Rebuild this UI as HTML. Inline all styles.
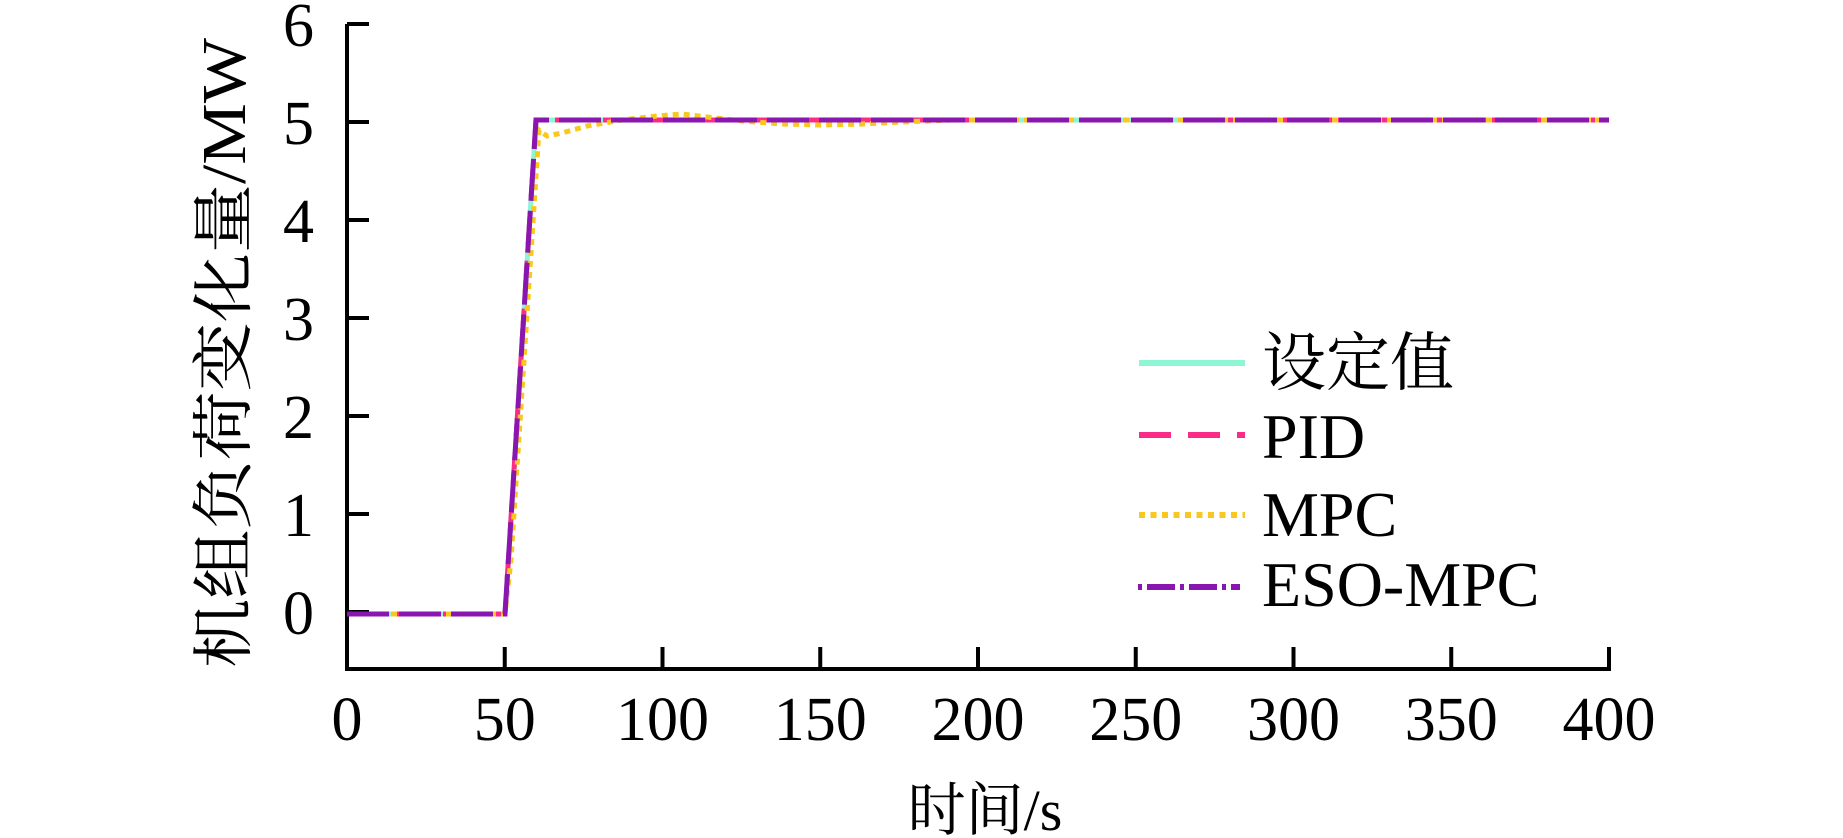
<!DOCTYPE html>
<html><head><meta charset="utf-8"><style>
html,body{margin:0;padding:0;background:#fff;}
svg{display:block;}
text{font-family:"Liberation Serif","Noto Serif CJK SC",serif;fill:#000;}
</style></head><body>
<svg width="1843" height="838" viewBox="0 0 1843 838" xmlns="http://www.w3.org/2000/svg">
<g stroke="#000" stroke-width="4" fill="none">
<path d="M347 24 L347 669 L1609 669 L1609 647"/>
<path d="M347 24 L369 24 M347 122 L369 122 M347 220 L369 220 M347 318 L369 318 M347 416 L369 416 M347 514 L369 514 M347 612 L369 612"/>
<path d="M504.75 669 V647 M662.5 669 V647 M820.25 669 V647 M978 669 V647 M1135.75 669 V647 M1293.5 669 V647 M1451.25 669 V647"/>
</g>
<g font-size="62" text-anchor="end">
<text x="314" y="46">6</text><text x="314" y="144">5</text><text x="314" y="242">4</text>
<text x="314" y="340">3</text><text x="314" y="438">2</text><text x="314" y="536">1</text><text x="314" y="634">0</text>
</g>
<g font-size="62" text-anchor="middle">
<text x="347" y="740">0</text><text x="504.75" y="740">50</text><text x="662.5" y="740">100</text>
<text x="820.25" y="740">150</text><text x="978" y="740">200</text><text x="1135.75" y="740">250</text>
<text x="1293.5" y="740">300</text><text x="1451.25" y="740">350</text><text x="1609" y="740">400</text>
</g>
<text x="985" y="830" font-size="58" text-anchor="middle">时间/s</text>
<text transform="translate(245,353) rotate(-90)" font-size="62" text-anchor="middle" textLength="630" lengthAdjust="spacingAndGlyphs">机组负荷变化量/MW</text>
<g fill="none" stroke-width="5">
<path d="M347 614 L505 614 L536 120 L1609 120" stroke="#8ef5d5"/>
<path d="M347 614 L505 614 L536 120 L1609 120" stroke="#fb2c88" stroke-dasharray="32 16"/>
<path d="M347 614 L505 614 L511 560 L539 130 L547 136 L562 133 L587 126 L622 120 L657 116 L682 114 L707 117 L742 121 L782 124 L822 125 L862 124 L902 122 L952 120 L1609 120" stroke="#f8c81e" stroke-dasharray="6 5"/>
<path d="M347 614 L505 614 L536 120 L1609 120" stroke="#8a16b0" stroke-dasharray="42 10"/>
</g>
<g stroke-width="6">
<line x1="1139" y1="363" x2="1245" y2="363" stroke="#8ef5d5"/>
<line x1="1139" y1="435" x2="1245" y2="435" stroke="#fb2c88" stroke-dasharray="32 17"/>
<line x1="1139" y1="515" x2="1245" y2="515" stroke="#f8c81e" stroke-dasharray="6 5.5"/>
<line x1="1138" y1="587" x2="1240" y2="587" stroke="#8a16b0" stroke-dasharray="4 5 28 5"/>
</g>
<g font-size="64">
<text x="1262" y="385">设定值</text>
<text x="1262" y="458">PID</text>
<text x="1262" y="536">MPC</text>
<text x="1262" y="606">ESO-MPC</text>
</g>
</svg>
</body></html>
